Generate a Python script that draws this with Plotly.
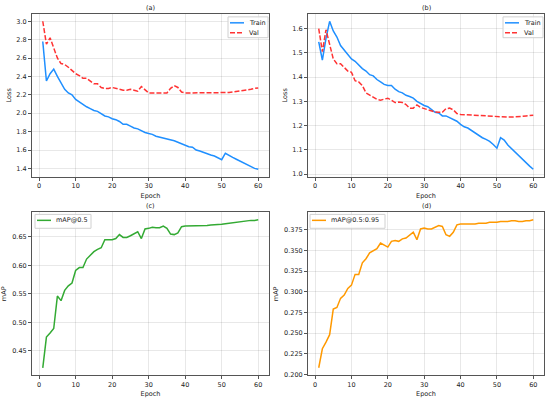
import plotly.graph_objects as go

# --- DATA ---
epochs = list(range(1, 61))

train_loss_a = [2.78, 2.35, 2.43, 2.48, 2.40, 2.33, 2.26, 2.22, 2.20, 2.15,
                2.12, 2.09, 2.07, 2.05, 2.03, 2.02, 1.99, 1.97, 1.96, 1.94,
                1.93, 1.91, 1.88, 1.88, 1.86, 1.84, 1.83, 1.81, 1.79, 1.78,
                1.77, 1.75, 1.74, 1.735, 1.72, 1.71, 1.70, 1.685, 1.67, 1.65,
                1.635, 1.63, 1.60, 1.59, 1.575, 1.555, 1.545, 1.535, 1.515, 1.495,
                1.565, 1.54, 1.52, 1.50, 1.48, 1.46, 1.44, 1.42, 1.40, 1.39]
val_loss_a = [3.00, 2.75, 2.82, 2.72, 2.60, 2.54, 2.53, 2.50, 2.46, 2.43,
              2.41, 2.38, 2.38, 2.35, 2.32, 2.32, 2.28, 2.27, 2.27, 2.28,
              2.27, 2.26, 2.25, 2.25, 2.26, 2.25, 2.24, 2.29, 2.25, 2.22,
              2.22, 2.22, 2.22, 2.215, 2.22, 2.27, 2.30, 2.28, 2.23, 2.22,
              2.22, 2.22, 2.22, 2.22, 2.22, 2.22, 2.22, 2.22, 2.22, 2.22,
              2.22, 2.225, 2.23, 2.235, 2.24, 2.245, 2.25, 2.26, 2.27, 2.275]

train_loss_b = [1.545, 1.47, 1.56, 1.63, 1.59, 1.565, 1.53, 1.51, 1.495, 1.475,
                1.465, 1.45, 1.435, 1.425, 1.41, 1.405, 1.39, 1.38, 1.37, 1.365,
                1.365, 1.35, 1.34, 1.335, 1.325, 1.32, 1.313, 1.30, 1.29, 1.283,
                1.278, 1.265, 1.255, 1.252, 1.24, 1.24, 1.232, 1.225, 1.218, 1.205,
                1.195, 1.19, 1.18, 1.168, 1.158, 1.15, 1.143, 1.135, 1.122, 1.107,
                1.15, 1.14, 1.12, 1.105, 1.09, 1.075, 1.06, 1.045, 1.033, 1.02]
val_loss_b = [1.60, 1.505, 1.595, 1.54, 1.475, 1.455, 1.455, 1.44, 1.425, 1.42,
              1.385, 1.38, 1.365, 1.335, 1.325, 1.315, 1.308, 1.305, 1.31, 1.313,
              1.305, 1.295, 1.297, 1.295, 1.287, 1.272, 1.272, 1.285, 1.275, 1.27,
              1.265, 1.262, 1.256, 1.255, 1.255, 1.27, 1.272, 1.265, 1.25, 1.246,
              1.245, 1.244, 1.243, 1.242, 1.241, 1.240, 1.239, 1.238, 1.237, 1.236,
              1.236, 1.236, 1.235, 1.235, 1.235, 1.236, 1.238, 1.24, 1.242, 1.243]

map50 = [0.42, 0.474, 0.481, 0.489, 0.546, 0.538, 0.556, 0.564, 0.569, 0.591,
         0.596, 0.596, 0.611, 0.617, 0.624, 0.628, 0.631, 0.645, 0.645, 0.645,
         0.647, 0.654, 0.649, 0.649, 0.652, 0.656, 0.659, 0.647, 0.664, 0.665,
         0.667, 0.666, 0.666, 0.669, 0.665, 0.655, 0.654, 0.657, 0.668, 0.669,
         0.669, 0.669, 0.669, 0.669, 0.670, 0.670, 0.671, 0.671, 0.672, 0.672,
         0.673, 0.674, 0.675, 0.676, 0.677, 0.678, 0.678, 0.679, 0.679, 0.680]

map50_95 = [0.208, 0.231, 0.239, 0.248, 0.279, 0.281, 0.292, 0.296, 0.304, 0.308,
            0.321, 0.321, 0.335, 0.340, 0.347, 0.350, 0.352, 0.359, 0.356, 0.354,
            0.361, 0.362, 0.361, 0.364, 0.365, 0.368, 0.372, 0.363, 0.376, 0.377,
            0.376, 0.376, 0.378, 0.380, 0.379, 0.369, 0.367, 0.372, 0.381, 0.382,
            0.382, 0.382, 0.382, 0.382, 0.383, 0.383, 0.383, 0.384, 0.384, 0.384,
            0.385, 0.385, 0.385, 0.386, 0.386, 0.385, 0.385, 0.386, 0.386, 0.387]

panel_titles = ["(a)", "(b)", "(c)", "(d)"]

# --- STYLE ---
BLUE = "#1f8fff"
RED = "#ff3333"
GREEN = "#33aa33"
ORANGE = "#ff9900"
FONT = "DejaVu Sans"
FS = 6.5
TXT = "#222"
VAL_DASH = "5px,2px"

W, H = 550, 403


def px_x(a, b):
    return [a / W, b / W]


def px_y(top, bottom):
    return [1 - bottom / H, 1 - top / H]


fig = go.Figure()

fig.add_trace(go.Scatter(x=epochs, y=train_loss_a, name="Train", mode="lines",
                         line=dict(color=BLUE, width=1.5), xaxis="x", yaxis="y"))
fig.add_trace(go.Scatter(x=epochs, y=val_loss_a, name="Val", mode="lines",
                         line=dict(color=RED, width=1.5, dash=VAL_DASH), xaxis="x", yaxis="y"))
fig.add_trace(go.Scatter(x=epochs, y=train_loss_b, name="Train", mode="lines",
                         line=dict(color=BLUE, width=1.5), xaxis="x2", yaxis="y2"))
fig.add_trace(go.Scatter(x=epochs, y=val_loss_b, name="Val", mode="lines",
                         line=dict(color=RED, width=1.5, dash=VAL_DASH), xaxis="x2", yaxis="y2"))
fig.add_trace(go.Scatter(x=epochs, y=map50, name="mAP@0.5", mode="lines",
                         line=dict(color=GREEN, width=1.5), xaxis="x3", yaxis="y3"))
fig.add_trace(go.Scatter(x=epochs, y=map50_95, name="mAP@0.5:0.95", mode="lines",
                         line=dict(color=ORANGE, width=1.5), xaxis="x4", yaxis="y4"))

axis_common = dict(
    showline=True, mirror=True, linecolor="#555", linewidth=1,
    showgrid=True, gridcolor="rgba(0,0,0,0.09)", gridwidth=0.8,
    ticks="outside", ticklen=3, tickcolor="#555", zeroline=False,
    tickfont=dict(family=FONT, size=FS, color=TXT),
)
xaxis_common = dict(axis_common, range=[-1.95, 62.95], tick0=0, dtick=10,
                    title=dict(text="Epoch", font=dict(family=FONT, size=FS, color=TXT), standoff=3))


def ytitle(text):
    return dict(text=text, font=dict(family=FONT, size=FS, color=TXT), standoff=4)


cols = [(32, 269), (308, 544)]
rows = [(14, 178), (214, 378)]

fig.update_layout(
    width=W, height=H,
    margin=dict(l=0, r=0, t=0, b=0),
    paper_bgcolor="white", plot_bgcolor="white",
    font=dict(family=FONT, size=FS, color=TXT),
    showlegend=False,
    xaxis=dict(xaxis_common, domain=px_x(*cols[0]), anchor="y"),
    yaxis=dict(axis_common, domain=px_y(*rows[0]), anchor="x", range=[1.31, 3.08],
               tick0=1.4, dtick=0.2, tickformat=".1f", title=ytitle("Loss")),
    xaxis2=dict(xaxis_common, domain=px_x(*cols[1]), anchor="y2"),
    yaxis2=dict(axis_common, domain=px_y(*rows[0]), anchor="x2", range=[0.9895, 1.6605],
                tick0=1.0, dtick=0.1, tickformat=".1f", title=ytitle("Loss")),
    xaxis3=dict(xaxis_common, domain=px_x(*cols[0]), anchor="y3"),
    yaxis3=dict(axis_common, domain=px_y(*rows[1]), anchor="x3", range=[0.407, 0.693],
                tick0=0.45, dtick=0.05, tickformat=".2f", title=ytitle("mAP")),
    xaxis4=dict(xaxis_common, domain=px_x(*cols[1]), anchor="y4"),
    yaxis4=dict(axis_common, domain=px_y(*rows[1]), anchor="x4", range=[0.199, 0.396],
                tick0=0.2, dtick=0.025, tickformat=".3f", title=ytitle("mAP")),
)


# --- LEGENDS (drawn as small boxes, matplotlib-like size) ---
def add_legend(box, entries):
    x0, y0, x1, y1 = box
    fig.add_shape(type="rect", xref="paper", yref="paper",
                  x0=x0 / W, x1=x1 / W, y0=1 - y1 / H, y1=1 - y0 / H,
                  line=dict(color="#d0d0d0", width=1), fillcolor="rgba(255,255,255,0.8)")
    for i, (label, color, dash) in enumerate(entries):
        yc = y0 + 6 + i * 10
        fig.add_shape(type="line", xref="paper", yref="paper",
                      x0=(x0 + 2) / W, x1=(x0 + 16) / W, y0=1 - yc / H, y1=1 - yc / H,
                      line=dict(color=color, width=1.5, dash=dash))
        fig.add_annotation(text=label, xref="paper", yref="paper", x=(x0 + 19) / W, y=1 - yc / H,
                           xanchor="left", yanchor="middle", showarrow=False,
                           font=dict(family=FONT, size=FS, color=TXT))


add_legend((228, 17, 268, 38), [("Train", BLUE, "solid"), ("Val", RED, VAL_DASH)])
add_legend((503, 17, 543, 38), [("Train", BLUE, "solid"), ("Val", RED, VAL_DASH)])
add_legend((35, 216, 91, 230), [("mAP@0.5", GREEN, "solid")])
add_legend((310, 216, 385, 230), [("mAP@0.5:0.95", ORANGE, "solid")])

# panel titles
for i, title in enumerate(panel_titles):
    c = cols[i % 2]
    r = rows[i // 2]
    fig.add_annotation(text=title, x=(c[0] + c[1]) / 2 / W, y=1 - (r[0] - 6) / H,
                       xref="paper", yref="paper", xanchor="center", yanchor="middle",
                       showarrow=False, font=dict(family=FONT, size=FS, color=TXT))

fig.write_html("out.html", config={"displayModeBar": False},
               post_script="document.body.style.margin='0';")
